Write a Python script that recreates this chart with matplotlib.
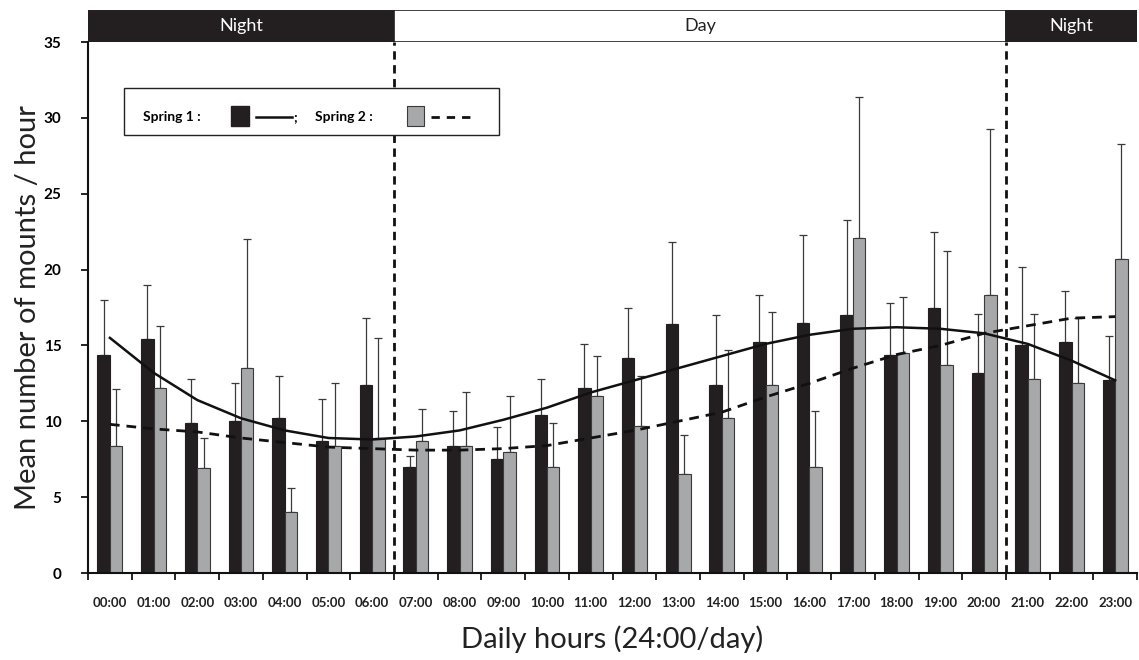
import numpy as np
import matplotlib
matplotlib.use("Agg")
import matplotlib.pyplot as plt
from matplotlib.patches import Rectangle
from matplotlib.lines import Line2D

plt.rcParams['font.family'] = ['Lato', 'DejaVu Sans']

# ============================
# data
# ============================
hours = ["00:00", "01:00", "02:00", "03:00", "04:00", "05:00", "06:00", "07:00",
         "08:00", "09:00", "10:00", "11:00", "12:00", "13:00", "14:00", "15:00",
         "16:00", "17:00", "18:00", "19:00", "20:00", "21:00", "22:00", "23:00"]

spring1_mean = [14.4, 15.4, 9.9, 10.0, 10.2, 8.7, 12.4, 7.0, 8.4, 7.5, 10.4, 12.2,
                14.2, 16.4, 12.4, 15.2, 16.5, 17.0, 14.4, 17.5, 13.2, 15.0, 15.2, 12.7]
spring1_err = [3.6, 3.6, 2.9, 2.5, 2.8, 2.8, 4.4, 0.7, 2.3, 2.1, 2.4, 2.9,
               3.3, 5.4, 4.6, 3.1, 5.8, 6.3, 3.4, 5.0, 3.9, 5.2, 3.4, 2.9]

spring2_mean = [8.4, 12.2, 6.9, 13.5, 4.0, 8.4, 8.9, 8.7, 8.4, 8.0, 7.0, 11.7,
                9.7, 6.5, 10.2, 12.4, 7.0, 22.1, 14.5, 13.7, 18.3, 12.8, 12.5, 20.7]
spring2_err = [3.7, 4.1, 2.0, 8.5, 1.6, 4.1, 6.6, 2.1, 3.5, 3.7, 2.9, 2.6,
               3.3, 2.6, 4.5, 4.8, 3.7, 9.3, 3.7, 7.5, 11.0, 4.3, 4.3, 7.6]

# trend curves, value read at every hour
spring1_trend = [15.5, 13.2, 11.4, 10.2, 9.4, 8.9, 8.8, 9.0, 9.4, 10.1, 10.9, 11.9,
                 12.7, 13.5, 14.3, 15.1, 15.7, 16.1, 16.2, 16.1, 15.8, 15.1, 14.0, 12.7]
spring2_trend = [9.8, 9.5, 9.3, 8.9, 8.6, 8.3, 8.2, 8.1, 8.1, 8.2, 8.4, 8.9,
                 9.4, 10.0, 10.6, 11.6, 12.5, 13.5, 14.4, 15.0, 15.8, 16.3, 16.8, 16.9]

periods = ["Night", "Day", "Night"]
period_edges = [-0.5, 6.5, 20.5, 23.5]

# ============================
# figure
# ============================
fig = plt.figure(figsize=(11.39, 6.6), dpi=100)
ax = fig.add_axes([0.0773, 0.1318, 0.921, 0.8045])
hdr = fig.add_axes([0.0773, 0.9364, 0.921, 0.0485], sharex=ax)

x = np.arange(len(hours))
w = 0.285
black = '#231f20'
grey = '#a7a8aa'

ax.bar(x - w / 2, spring1_mean, w, color=black, edgecolor=black, linewidth=0.8, zorder=2)
ax.bar(x + w / 2, spring2_mean, w, color=grey, edgecolor='#3a3a3a', linewidth=0.8, zorder=2)
ax.errorbar(x - w / 2, spring1_mean, yerr=[np.zeros(len(x)), spring1_err], fmt='none',
            ecolor='#3a3a3a', elinewidth=0.9, capsize=3, capthick=0.9, zorder=1)
ax.errorbar(x + w / 2, spring2_mean, yerr=[np.zeros(len(x)), spring2_err], fmt='none',
            ecolor='#3a3a3a', elinewidth=0.9, capsize=3, capthick=0.9, zorder=1)

ax.plot(x, spring1_trend, color='#111111', lw=1.8, zorder=3)
ax.plot(x, spring2_trend, color='#111111', lw=2, linestyle=(0, (3.5, 2.5)), zorder=3)

for xe in period_edges[1:-1]:
    ax.axvline(xe, color='#111111', lw=2, linestyle=(0, (3, 2)), zorder=4)

ax.set_xlim(-0.5, 23.5)
ax.set_ylim(0, 35)
ax.set_yticks(np.arange(0, 36, 5))
ax.set_xticks(x)
ax.set_xticklabels(hours, fontsize=9.5, fontweight='bold', color='#222222')
ax.set_xticks(np.arange(-0.5, 24, 1), minor=True)
ax.tick_params(axis='x', which='major', length=0, pad=17)
ax.tick_params(axis='x', which='minor', length=5, width=1.2, direction='out')
ax.tick_params(axis='y', length=5, width=1.2, labelsize=11, pad=14)
for lab in ax.get_yticklabels():
    lab.set_fontweight('bold')
for s in ['top', 'right']:
    ax.spines[s].set_visible(False)
for s in ['left', 'bottom']:
    ax.spines[s].set_linewidth(1.5)
    ax.spines[s].set_color('#111111')

ax.set_ylabel('Mean number of mounts / hour', fontsize=21, color='#222222', labelpad=2)
ax.set_xlabel('Daily hours (24:00/day)', fontsize=21, color='#222222', labelpad=12)

# header band
for i, name in enumerate(periods):
    x0, x1 = period_edges[i], period_edges[i + 1]
    dark = name == "Night"
    hdr.add_patch(Rectangle((x0, 0), x1 - x0, 1, facecolor=black if dark else 'white',
                            edgecolor=black, linewidth=1.2))
    hdr.text((x0 + x1) / 2, 0.5, name, ha='center', va='center', fontsize=13,
             color='white' if dark else '#222222')
hdr.set_ylim(0, 1)
hdr.axis('off')

# legend box
ax.add_patch(Rectangle((0.0343, 0.825), 0.357, 0.088, transform=ax.transAxes,
                       facecolor='white', edgecolor='#222222', linewidth=1, zorder=5))
ly = 0.859
ax.text(0.0524, ly, 'Spring 1 :', transform=ax.transAxes, fontsize=10, fontweight='bold',
        va='center', zorder=6)
ax.add_patch(Rectangle((0.1363, 0.842), 0.0172, 0.0377, transform=ax.transAxes,
                       facecolor=black, edgecolor=black, zorder=6))
ax.add_line(Line2D([0.1602, 0.1945], [ly, ly], transform=ax.transAxes, color='#111111',
                   lw=1.8, zorder=6))
ax.text(0.1955, ly, ';', transform=ax.transAxes, fontsize=10, fontweight='bold',
        va='center', zorder=6)
ax.text(0.2164, ly, 'Spring 2 :', transform=ax.transAxes, fontsize=10, fontweight='bold',
        va='center', zorder=6)
ax.add_patch(Rectangle((0.3041, 0.842), 0.0162, 0.0377, transform=ax.transAxes,
                       facecolor=grey, edgecolor='#3a3a3a', linewidth=0.8, zorder=6))
ax.add_line(Line2D([0.327, 0.367], [ly, ly], transform=ax.transAxes, color='#111111',
                   lw=2, linestyle=(0, (3, 2.5)), zorder=6))

fig.savefig('out.png', dpi=100)
